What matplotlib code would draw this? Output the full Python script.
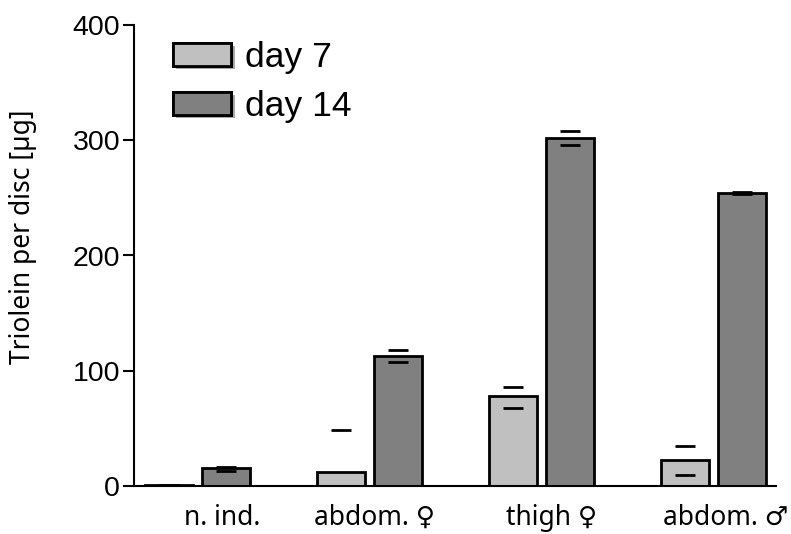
import matplotlib
matplotlib.use("Agg")
import matplotlib.pyplot as plt
import matplotlib.patheffects as pe
import numpy as np

categories = ["n. ind.", "abdom. \u2640", "thigh \u2640", "abdom. \u2642"]
series = ["day 7", "day 14"]
day7 = [0.5, 12, 78, 22.5]
day7_lo = [0.5, -25, 67.5, 9.5]
day7_hi = [0.5, 49, 86, 34.5]
day14 = [15.5, 113, 302, 254]
day14_lo = [13.3, 108, 296, 253]
day14_hi = [16.7, 118, 308, 255]
yticks = [0, 100, 200, 300, 400]

colors = ["#c0c0c0", "#808080"]
label_shift = [0.14, 0.03, 0.06, 0.07]  # layout only

fig = plt.figure(figsize=(7.91, 5.34), dpi=100)
ax = fig.add_axes([134/791, 48/534, (776-134)/791, (486-25)/534])

x = np.arange(len(categories))
w = 0.28
off = 0.166
for i, (vals, lo, hi) in enumerate([(day7, day7_lo, day7_hi), (day14, day14_lo, day14_hi)]):
    xs = x + (-off if i == 0 else off)
    vals = np.array(vals); lo = np.array(lo); hi = np.array(hi)
    ax.bar(xs, vals, width=w, color=colors[i], edgecolor="black", linewidth=2, label=series[i], zorder=2)
    ax.errorbar(xs, vals, yerr=[vals - lo, hi - vals], fmt="none", ecolor="black",
                elinewidth=0, capsize=7.5, capthick=2, zorder=3)

ax.set_xlim(-0.37, 3.363)
ax.set_ylim(0, 400)
ax.set_yticks(yticks)
ax.set_yticklabels([str(t) for t in yticks], fontfamily="Liberation Sans", fontsize=20.5)
ax.set_xticks(x + np.array(label_shift))
ax.set_xticklabels(categories, fontfamily=["Noto Sans", "DejaVu Sans"], fontsize=19)
ax.tick_params(axis="x", length=0, pad=13)
ax.tick_params(axis="y", length=8, width=1.5, pad=2)
for s in ["top", "right"]:
    ax.spines[s].set_visible(False)
for s in ["left", "bottom"]:
    ax.spines[s].set_linewidth(1.5)
ax.set_ylabel("Triolein per disc [\u00b5g]", fontfamily="Noto Sans", fontsize=19)
ax.yaxis.set_label_coords(-0.151, 0.54)

leg = ax.legend(loc="upper left", bbox_to_anchor=(148/791, 518/534), bbox_transform=fig.transFigure,
                frameon=False, prop={"family": "Liberation Sans", "size": 25.5},
                handlelength=1.65, handleheight=0.62, handletextpad=0.38, labelspacing=0.45,
                borderpad=0.2)
for p in leg.get_patches():
    p.set_path_effects([pe.withSimplePatchShadow(offset=(2.5, -2.5), shadow_rgbFace="#a8a8a8", alpha=1.0), pe.Normal()])

fig.savefig("out.png", dpi=100)
